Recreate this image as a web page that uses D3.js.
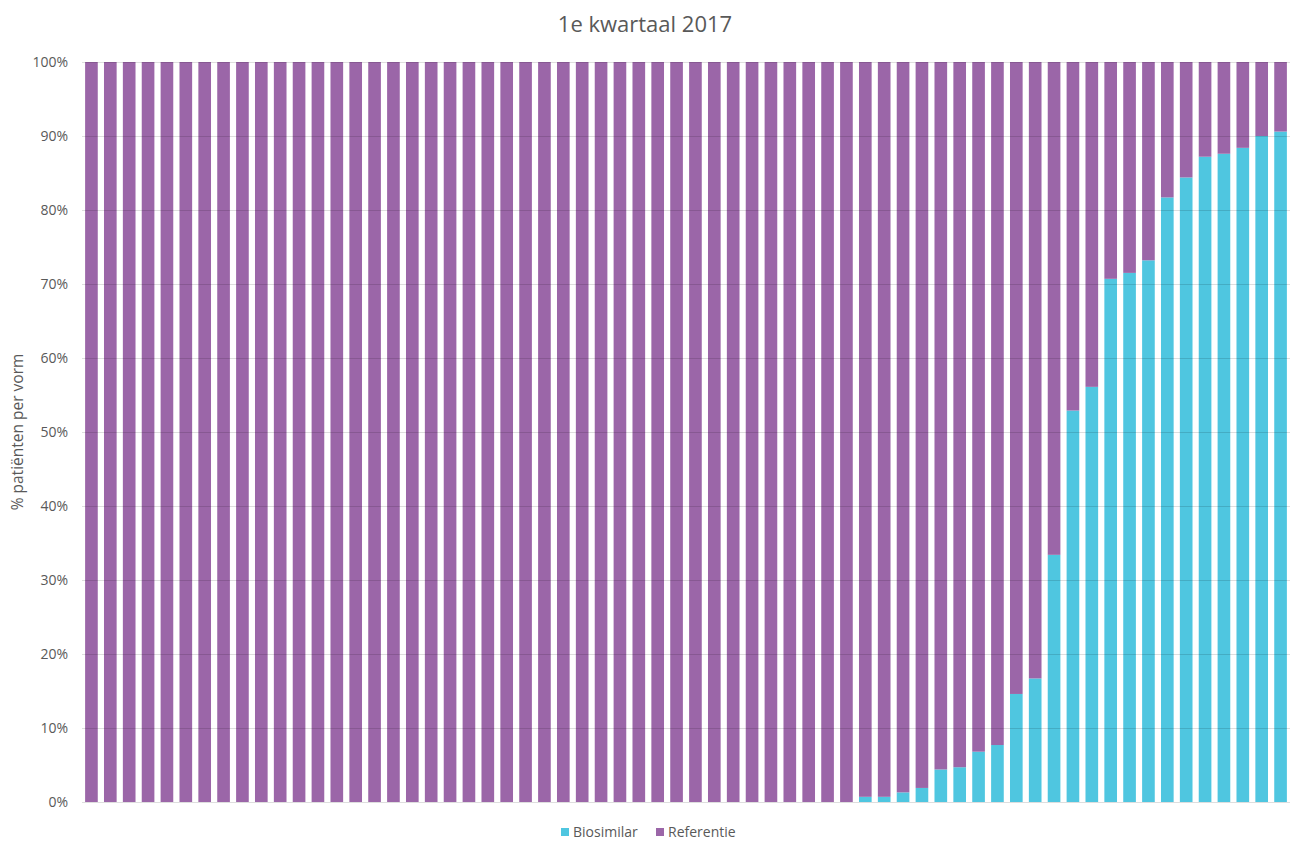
<!DOCTYPE html>
<html>
<head>
<meta charset="utf-8">
<script src="https://cdn.jsdelivr.net/npm/d3@7"></script>
<style>
  html, body { margin: 0; padding: 0; background: #fff; }
  svg { display: block; font-family: "Open Sans", "Liberation Sans", sans-serif; }
</style>
</head>
<body>
<svg id="chart" width="1290" height="843"></svg>
<script>
// 64 ziekenhuizen, gesorteerd op aandeel biosimilar
const categories = d3.range(1, 65).map(i => "Z" + i);

const biosimilar = [
  0, 0, 0, 0, 0, 0, 0, 0, 0, 0,
  0, 0, 0, 0, 0, 0, 0, 0, 0, 0,
  0, 0, 0, 0, 0, 0, 0, 0, 0, 0,
  0, 0, 0, 0, 0, 0, 0, 0, 0, 0,
  0,
  0.7, 0.7, 1.3, 1.9, 4.4, 4.7, 6.8, 7.7, 14.6, 16.7,
  33.4, 52.9, 56.1, 70.7, 71.5, 73.2, 81.7, 84.4, 87.2, 87.6,
  88.4, 90.0, 90.6
];

const referentie = [
  100, 100, 100, 100, 100, 100, 100, 100, 100, 100,
  100, 100, 100, 100, 100, 100, 100, 100, 100, 100,
  100, 100, 100, 100, 100, 100, 100, 100, 100, 100,
  100, 100, 100, 100, 100, 100, 100, 100, 100, 100,
  100,
  99.3, 99.3, 98.7, 98.1, 95.6, 95.3, 93.2, 92.3, 85.4, 83.3,
  66.6, 47.1, 43.9, 29.3, 28.5, 26.8, 18.3, 15.6, 12.8, 12.4,
  11.6, 10.0, 9.4
];

const seriesNames = ["Biosimilar", "Referentie"];
const seriesColors = ["#4FC6E0", "#9B66A8"];
const yTicks = [0, 10, 20, 30, 40, 50, 60, 70, 80, 90, 100];

const title = "1e kwartaal 2017";
const yTitle = "% patiënten per vorm";

const rows = categories.map((c, i) => ({ cat: c, Biosimilar: biosimilar[i], Referentie: referentie[i] }));
const stacked = d3.stack().keys(seriesNames)(rows);

const svg = d3.select("#chart");
const margin = { left: 82, right: 0, top: 62, bottom: 41 };
const W = 1290, H = 843;

const x = d3.scaleBand()
  .domain(categories)
  .range([margin.left, W - margin.right])
  .paddingInner(0.33)
  .paddingOuter(0.165);

const y = d3.scaleLinear()
  .domain([0, 100])
  .range([H - margin.bottom, margin.top]);

const color = d3.scaleOrdinal().domain(seriesNames).range(seriesColors);

// Titel
svg.append("text")
  .attr("x", 645).attr("y", 32)
  .attr("text-anchor", "middle")
  .attr("fill", "#595959")
  .attr("font-size", 22)
  .text(title);

// Balken
svg.append("g")
  .selectAll("g")
  .data(stacked)
  .join("g")
  .attr("fill", d => color(d.key))
  .selectAll("rect")
  .data(d => d)
  .join("rect")
  .attr("x", d => x(d.data.cat))
  .attr("width", x.bandwidth())
  .attr("y", d => y(d[1]))
  .attr("height", d => y(d[0]) - y(d[1]));

// Rasterlijnen over de balken heen (half doorzichtig)
const yAxis = d3.axisLeft(y)
  .tickValues(yTicks)
  .tickFormat(d => d + "%")
  .tickSize(-(W - margin.left - margin.right))
  .tickPadding(14);

const gy = svg.append("g")
  .attr("transform", `translate(${margin.left},0)`)
  .call(yAxis);
gy.select(".domain").remove();
gy.selectAll(".tick line")
  .attr("stroke", "#000")
  .attr("stroke-opacity", 0.13)
  .attr("stroke-width", 1);
gy.selectAll(".tick text")
  .attr("fill", "#595959")
  .attr("font-size", 14)
  .attr("font-family", "Open Sans, sans-serif");

// As-titel
svg.append("text")
  .attr("transform", `translate(23,${(y(0) + y(100)) / 2}) rotate(-90)`)
  .attr("text-anchor", "middle")
  .attr("fill", "#595959")
  .attr("font-size", 15.5)
  .text(yTitle);

// Legenda
const legend = svg.append("g").attr("transform", "translate(561,832)");
const legendX = [0, 95];
seriesNames.forEach((name, i) => {
  const g = legend.append("g").attr("transform", `translate(${legendX[i]},0)`);
  g.append("rect")
    .attr("x", 0).attr("y", -4)
    .attr("width", 8).attr("height", 8)
    .attr("fill", color(name));
  g.append("text")
    .attr("x", 12).attr("y", 0)
    .attr("dy", "0.35em")
    .attr("fill", "#595959")
    .attr("font-size", 14)
    .text(name);
});
</script>
</body>
</html>
